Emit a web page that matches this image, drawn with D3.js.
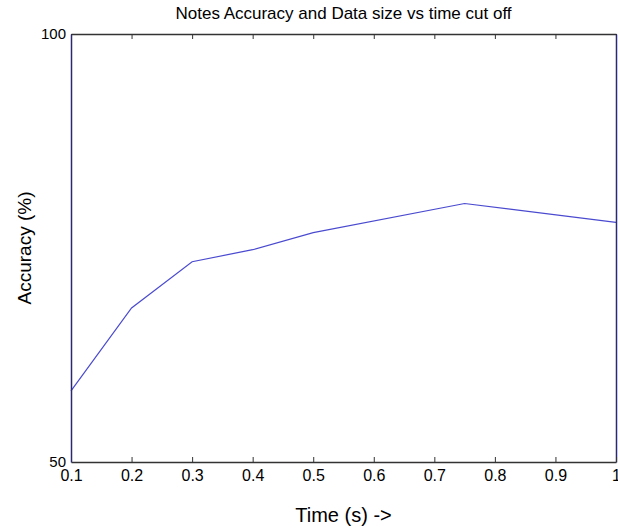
<!DOCTYPE html>
<html>
<head>
<meta charset="utf-8">
<script src="https://cdn.jsdelivr.net/npm/d3@7"></script>
<style>
  body { margin: 0; background: #fff; }
  text { font-family: "Liberation Sans", Arial, sans-serif; fill: #000; }
</style>
</head>
<body>
<div id="chart"></div>
<script>
const timeCutoff = [0.1, 0.2, 0.3, 0.4, 0.5, 0.75, 1.0];
const accuracy = [58.3, 68.0, 73.4, 74.8, 76.8, 80.2, 78.0];
const xTicks = [0.1, 0.2, 0.3, 0.4, 0.5, 0.6, 0.7, 0.8, 0.9, 1];
const yTicks = [50, 100];

const width = 618, height = 531;
const margin = {top: 34, right: 2, bottom: 69, left: 71};

const svg = d3.select("#chart")
    .append("svg")
    .attr("width", width)
    .attr("height", height);

const x = d3.scaleLinear()
    .domain([0.1, 1])
    .range([margin.left, width - margin.right]);

const y = d3.scaleLinear()
    .domain([50, 100])
    .range([height - margin.bottom, margin.top]);

// line
const line = d3.line()
    .x((d, i) => x(timeCutoff[i]))
    .y(d => y(d));

svg.append("path")
    .datum(accuracy)
    .attr("fill", "none")
    .attr("stroke", "#4a4ad0")
    .attr("stroke-width", 1.2)
    .attr("d", line);

// x axis (bottom) with inward ticks
const xAxis = g => g
    .attr("transform", `translate(0,${y(50)})`)
    .call(d3.axisBottom(x).tickValues(xTicks).tickSizeInner(-5).tickSizeOuter(0)
        .tickFormat(d => d === 1 ? "1" : d3.format(".1f")(d)))
    .call(g => g.select(".domain").attr("stroke", "#333").attr("stroke-width", 1.5))
    .call(g => g.selectAll(".tick line").attr("stroke", "#333"))
    .call(g => g.selectAll(".tick text")
        .attr("y", 8)
        .attr("font-size", 16)
        .attr("font-family", "Liberation Sans, Arial, sans-serif"));

// top ticks
const xTop = g => g
    .attr("transform", `translate(0,${y(100)})`)
    .call(d3.axisTop(x).tickValues(xTicks).tickSizeInner(-5).tickSizeOuter(0).tickFormat(""))
    .call(g => g.select(".domain").attr("stroke", "#333").attr("stroke-width", 1.5))
    .call(g => g.selectAll(".tick line").attr("stroke", "#333"));

const yAxis = g => g
    .attr("transform", `translate(${x(0.1)},0)`)
    .call(d3.axisLeft(y).tickValues(yTicks).tickSize(0))
    .call(g => g.select(".domain").attr("stroke", "#2a2a70").attr("stroke-width", 1.5))
    .call(g => g.selectAll(".tick text")
        .attr("x", -5)
        .attr("font-size", 15)
        .attr("font-family", "Liberation Sans, Arial, sans-serif"));

const yRight = g => g
    .attr("transform", `translate(${x(1)},0)`)
    .call(d3.axisRight(y).tickValues(yTicks).tickSize(0).tickFormat(""))
    .call(g => g.select(".domain").attr("stroke", "#2a2a70").attr("stroke-width", 1.5));

svg.append("g").call(xTop);
svg.append("g").call(yRight);
svg.append("g").call(xAxis);
svg.append("g").call(yAxis);

// title and labels
svg.append("text")
    .attr("x", (x(0.1) + x(1)) / 2)
    .attr("y", 19)
    .attr("text-anchor", "middle")
    .attr("font-size", 17)
    .text("Notes Accuracy and Data size vs time cut off");

svg.append("text")
    .attr("x", (x(0.1) + x(1)) / 2)
    .attr("y", 522)
    .attr("text-anchor", "middle")
    .attr("font-size", 20)
    .text("Time (s) ->");

svg.append("text")
    .attr("transform", `translate(31,${(y(50) + y(100)) / 2}) rotate(-90)`)
    .attr("text-anchor", "middle")
    .attr("font-size", 19)
    .text("Accuracy (%)");
</script>
</body>
</html>
